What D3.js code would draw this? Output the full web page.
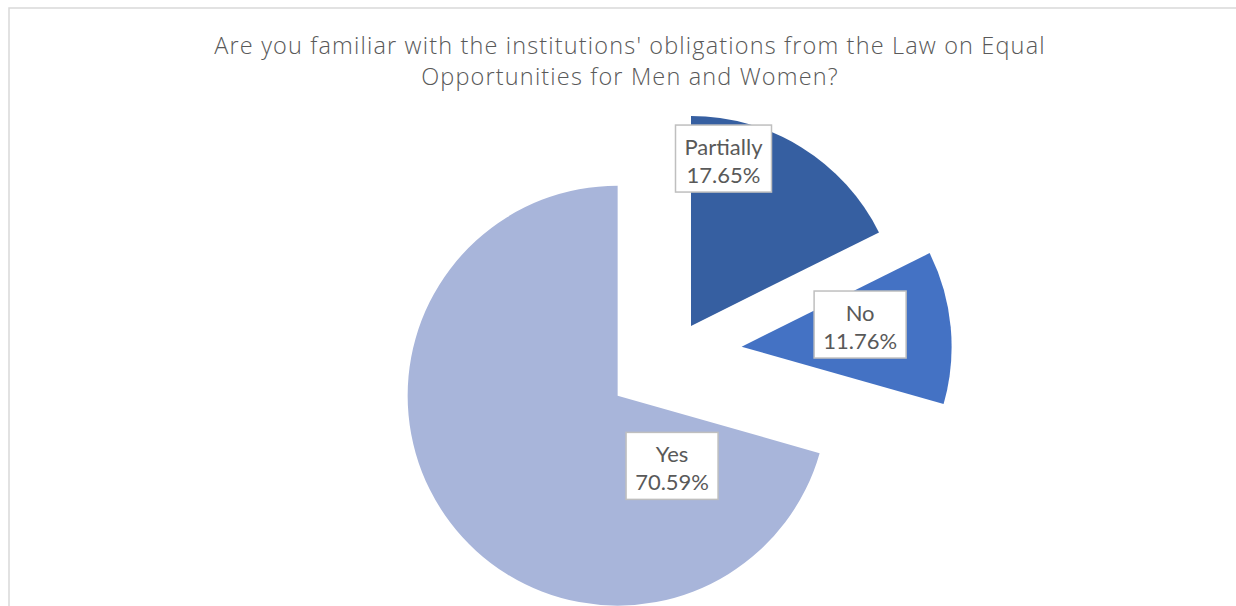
<!DOCTYPE html>
<html>
<head>
<meta charset="utf-8">
<script src="https://cdn.jsdelivr.net/npm/d3@7"></script>
<style>
  html, body { margin: 0; padding: 0; background: #fff; }
  svg { display: block; }
</style>
</head>
<body>
<svg id="chart" width="1236" height="606"></svg>
<script>
// Survey answers, in the order the slices run clockwise from 12 o'clock
const categories = ["Partially", "No", "Yes"];
const shares = [17.65, 11.76, 70.59];
const sliceColors = ["#365FA1", "#4472C4", "#A8B5DA"];
const titleLines = [
  "Are you familiar with the institutions' obligations from the Law on Equal",
  "Opportunities for Men and Women?"
];

const W = 1236, H = 606;
const svg = d3.select("#chart");

// Chart area frame (runs off the right and bottom edges)
svg.append("rect")
  .attr("x", 9).attr("y", 8)
  .attr("width", W + 20).attr("height", H + 20)
  .attr("fill", "#fff")
  .attr("stroke", "#D9D9D9")
  .attr("stroke-width", 1.5);

// Title
svg.append("g")
  .selectAll("text")
  .data(titleLines)
  .join("text")
  .attr("x", 630)
  .attr("y", (d, i) => 54 + i * 30.5)
  .attr("text-anchor", "middle")
  .attr("font-family", "'Open Sans', Lato, sans-serif")
  .attr("font-weight", 300)
  .attr("font-size", 23.5)
  .attr("letter-spacing", 1.15)
  .attr("fill", "#595959")
  .text(d => d);

// Pie geometry
const cx = 674.3, cy = 352.9, R = 210;
const explode = { Partially: 31.7, No: 67.6, Yes: 71 };
// Label placement within each slice: t = fraction of the slice's sweep, r = fraction of radius
const labelSpot = {
  Partially: { t: 0.173, r: 0.812 },
  No: { t: 0.375, r: 0.574 },
  Yes: { t: 0.143, r: 0.423 }
};

const color = d3.scaleOrdinal().domain(categories).range(sliceColors);
const rows = categories.map((c, i) => ({ name: c, value: shares[i] }));

const pie = d3.pie().sort(null).value(d => d.value).startAngle(0).endAngle(2 * Math.PI);
const arc = d3.arc().innerRadius(0).outerRadius(R);
const arcs = pie(rows);

const polar = (a, r) => [Math.sin(a) * r, -Math.cos(a) * r];

const slices = svg.append("g")
  .attr("transform", `translate(${cx},${cy})`)
  .selectAll("g.slice")
  .data(arcs)
  .join("g")
  .attr("class", "slice")
  .attr("transform", d => {
    const mid = (d.startAngle + d.endAngle) / 2;
    const [dx, dy] = polar(mid, explode[d.data.name]);
    return `translate(${dx},${dy})`;
  });

slices.append("path")
  .attr("d", arc)
  .attr("fill", d => color(d.data.name));

// Data labels: boxed category name and percentage
const labelFont = "Lato, 'Open Sans', sans-serif";
const labels = slices.append("g")
  .attr("transform", d => {
    const s = labelSpot[d.data.name];
    const a = d.startAngle + s.t * (d.endAngle - d.startAngle);
    const [x, y] = polar(a, s.r * R);
    return `translate(${x},${y})`;
  });

const boxH = 67;
labels.each(function(d) {
  const g = d3.select(this);
  const rect = g.append("rect");
  const lines = [d.data.name, d.data.value.toFixed(2) + "%"];
  const txt = g.selectAll("text")
    .data(lines)
    .join("text")
    .attr("x", 0)
    .attr("y", (t, i) => -4 + i * 28.3)
    .attr("text-anchor", "middle")
    .attr("font-family", labelFont)
    .attr("font-size", 22)
    .attr("fill", "#595959")
    .text(t => t);
  let w = 0;
  txt.each(function() { w = Math.max(w, this.getComputedTextLength()); });
  const bw = Math.round(w + 18);
  rect.attr("x", -bw / 2).attr("y", -boxH / 2)
    .attr("width", bw).attr("height", boxH)
    .attr("fill", "#fff")
    .attr("stroke", "#BFBFBF")
    .attr("stroke-width", 1.5);
});
</script>
</body>
</html>
